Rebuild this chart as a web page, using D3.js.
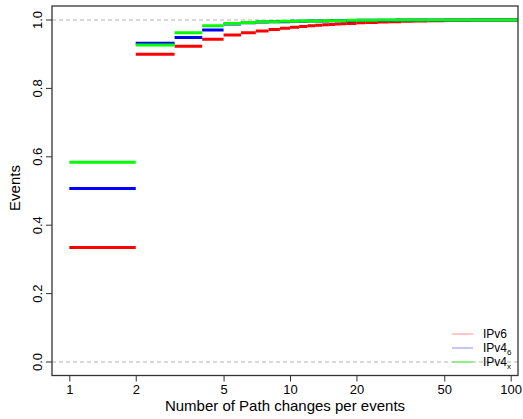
<!DOCTYPE html>
<html><head><meta charset="utf-8">
<script src="https://cdn.jsdelivr.net/npm/d3@7"></script>
<style>body{margin:0;background:#fff}svg{display:block;font-family:"Liberation Sans",Arial,sans-serif}</style>
</head><body><svg id="c" width="523" height="419"></svg>
<script>
const xIPv6 = [1,2,3,4,5,6,7,8,9,10,11,12,13,14,15,16,17,18,20,22,25,28,32,36,42,50,65];
const yIPv6 = [0.335,0.900,0.923,0.944,0.956,0.963,0.968,0.972,0.976,0.979,0.981,0.983,0.985,0.986,0.987,0.988,0.989,0.990,0.992,0.993,0.994,0.995,0.996,0.997,0.998,0.999,1.0];
const xIPv46 = [1,2,3,4,5,6,7,8,10,12,15,20,30];
const yIPv46 = [0.507,0.932,0.949,0.971,0.988,0.992,0.994,0.995,0.996,0.997,0.998,0.999,1.0];
const xIPv4x = [1,2,3,4,5,6,7,9,11,14,18,25];
const yIPv4x = [0.584,0.927,0.963,0.983,0.990,0.993,0.995,0.996,0.997,0.998,0.999,1.0];
const xTicks = [1,2,5,10,20,50,100];
const yTicks = [0,0.2,0.4,0.6,0.8,1.0];
const seriesNames = ["IPv6","IPv4","IPv4"];
const seriesSubs = ["","6","x"];
const colors = ["#ff0000","#0000ff","#00ff00"];
const legendColors = ["#ff9090","#9090ff","#90ee90"];

const svg = d3.select("#c");
const L=52,R=518,T=6,B=375.5;
const x = d3.scaleLog().domain([Math.pow(10,(L-69.3)/220.7), Math.pow(10,(R-69.3)/220.7)]).range([L,R]);
const y = d3.scaleLinear().domain([0,1]).range([362,20]);

svg.append("defs").append("clipPath").attr("id","clip").append("rect").attr("x",L).attr("y",T).attr("width",R-L).attr("height",B-T);

// dashed reference lines
[0,1].forEach(v=>{
  svg.append("line").attr("x1",L).attr("x2",R).attr("y1",y(v)).attr("y2",y(v))
    .attr("stroke","#b3b3b3").attr("stroke-width",1).attr("stroke-dasharray","4,3");
});

const g = svg.append("g").attr("clip-path","url(#clip)");
const data = [[xIPv6,yIPv6],[xIPv46,yIPv46],[xIPv4x,yIPv4x]];
data.forEach(([xs,ys],k)=>{
  const segs = xs.map((xv,i)=>({x0:xv, x1: i<xs.length-1? xs[i+1] : x.domain()[1]*1.2, v: ys[i]}));
  g.selectAll(null).data(segs).enter().append("line")
    .attr("x1",d=>x(d.x0)).attr("x2",d=>x(d.x1))
    .attr("y1",d=>y(d.v)).attr("y2",d=>y(d.v))
    .attr("stroke",colors[k]).attr("stroke-width",3);
});

// box
svg.append("rect").attr("x",L).attr("y",T).attr("width",R-L).attr("height",B-T)
  .attr("fill","none").attr("stroke","#333").attr("stroke-width",1.3);

// x axis
const xa = svg.append("g").attr("transform",`translate(0,${B})`)
  .call(d3.axisBottom(x).tickValues(xTicks).tickFormat(d3.format("d")).tickSize(6).tickPadding(3));
xa.select(".domain").remove();
xa.selectAll("text").attr("font-size",13).attr("fill","#000").attr("font-family","Liberation Sans, Arial, sans-serif");
xa.selectAll("line").attr("stroke","#333");

// y axis
const ya = svg.append("g").attr("transform",`translate(${L},0)`)
  .call(d3.axisLeft(y).tickValues(yTicks).tickFormat(d3.format(".1f")).tickSize(6));
ya.select(".domain").remove();
ya.selectAll("line").attr("stroke","#333");
ya.selectAll("text").attr("font-size",13).attr("fill","#000").attr("font-family","Liberation Sans, Arial, sans-serif")
  .attr("text-anchor","middle").attr("transform",d=>`translate(-14.5,0) rotate(-90)`).attr("x",0).attr("dy","0.35em")
  .attr("transform",function(d){return `translate(-14.5,${y(d)}) rotate(-90)`;}).attr("y",0);
ya.selectAll(".tick").attr("transform",null);
ya.selectAll(".tick line").attr("y1",d=>y(d)).attr("y2",d=>y(d));

svg.append("text").attr("x",285).attr("y",411).attr("text-anchor","middle").attr("font-size",15)
  .text("Number of Path changes per events");
svg.append("text").attr("transform","translate(20,188) rotate(-90)").attr("text-anchor","middle").attr("font-size",15)
  .text("Events");

// legend
const ly=[334,348,362];
seriesNames.forEach((n,i)=>{
  svg.append("line").attr("x1",452).attr("x2",473).attr("y1",ly[i]).attr("y2",ly[i])
    .attr("stroke",legendColors[i]).attr("stroke-width",i==2?2:1);
  const t = svg.append("text").attr("x",483).attr("y",ly[i]).attr("dy","0.35em").attr("font-size",12).text(n);
  if(seriesSubs[i]) t.append("tspan").attr("font-size",8).attr("dy","3").text(seriesSubs[i]);
});
</script></body></html>
